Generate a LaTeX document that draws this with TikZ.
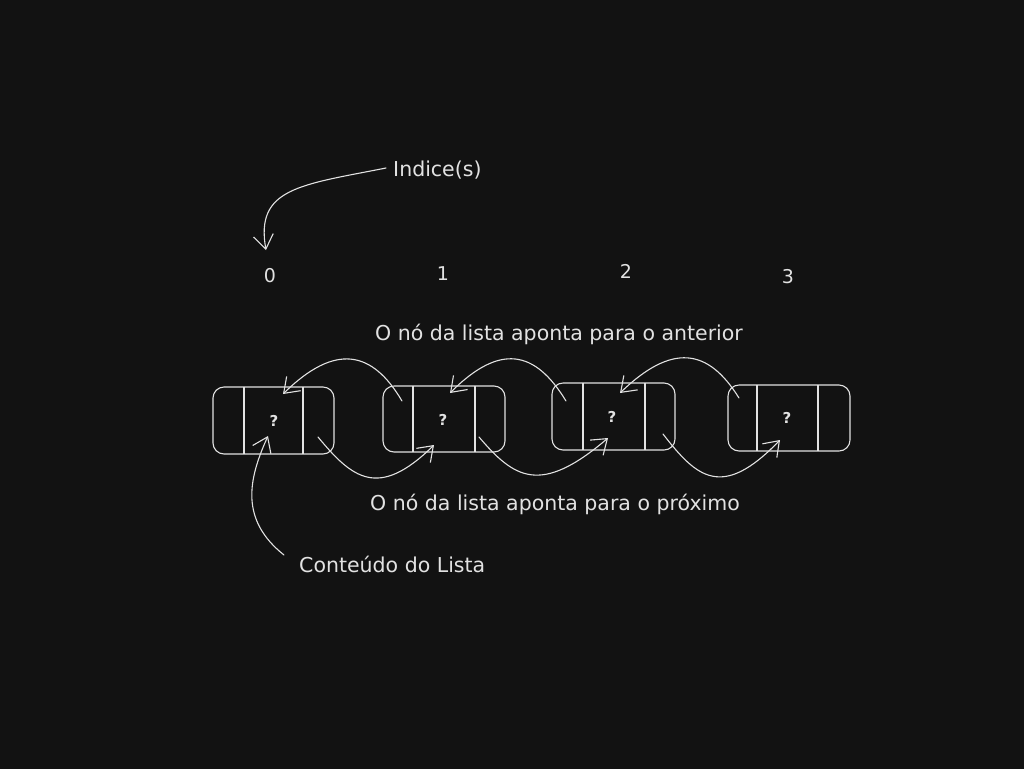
\documentclass[tikz,border=0pt]{standalone}
\usepackage{fontspec}
\setmainfont{DejaVu Sans}
\usetikzlibrary{arrows.meta}
\definecolor{bg}{HTML}{121212}
\definecolor{ink}{HTML}{E2E2E2}
\tikzset{
  ink/.style={draw=ink, line width=1.1pt},
  cell/.style={ink, rounded corners=11pt},
  arr/.style={ink, line cap=round, line join=round, -{Straight Barb[length=14pt,width=20pt,line width=1.1pt]}},
  lbl/.style={text=ink, font=\fontsize{20.5}{24}\selectfont, inner sep=0pt},
  idx/.style={text=ink, font=\fontsize{19}{21}\selectfont, inner sep=0pt},
  q/.style={text=ink, font=\bfseries\fontsize{15}{17}\selectfont, inner sep=0pt},
}
\begin{document}
\begin{tikzpicture}[x=1pt,y=-1pt]
\fill[bg] (0,0) rectangle (1024,769);
\useasboundingbox (0,0) rectangle (1024,769);

% boxes
\draw[cell] (213,387) rectangle (334,454);
\draw[ink] (244,387) -- (244,454) (303,387) -- (303,454);
\draw[cell] (383,386) rectangle (505,452);
\draw[ink] (413,386) -- (413,452) (475,386) -- (475,452);
\draw[cell] (552,383) rectangle (675,450);
\draw[ink] (583,383) -- (583,450) (645,383) -- (645,450);
\draw[cell] (728,385) rectangle (850,451);
\draw[ink] (757,385) -- (757,451) (818,385) -- (818,451);

\node[q] (q0) at (274,421) {?};
\node[q] (q1) at (443,420) {?};
\node[q] (q2) at (612,417) {?};
\node[q] (q3) at (787,418) {?};

% indices
\node[idx] (i0) at (270,276) {0};
\node[idx] (i1) at (443,274) {1};
\node[idx] (i2) at (626,271) {2};
\node[idx] (i3) at (788,277) {3};

% labels
\node[lbl, anchor=west] (ind) at (393,170) {Indice(s)};
\node[lbl] (ant) at (559,334) {O nó da lista aponta para o anterior};
\node[lbl] (prox) at (555,504) {O nó da lista aponta para o próximo};
\node[lbl, anchor=west] (cont) at (299,564) {Conteúdo do Lista};

% coordinates
\coordinate (a1s) at (402,401);
\coordinate (a1e) at (283,394);
\coordinate (a2s) at (566,401);
\coordinate (a2e) at (450,393);
\coordinate (a3s) at (739,398);
\coordinate (a3e) at (620,393);
\coordinate (p1s) at (318,437);
\coordinate (p1e) at (434,445);
\coordinate (p2s) at (479,437);
\coordinate (p2e) at (608,438);
\coordinate (p3s) at (663,434);
\coordinate (p3e) at (780,440);
\coordinate (cs) at (284,555);
\coordinate (ce) at (268,436);
\coordinate (is) at (386,168);
\coordinate (ie) at (266,250);

% previous pointers
\draw[arr] (a1s) .. controls (372,350) and (335,343) .. (a1e);
\draw[arr] (a2s) .. controls (535,350) and (500,343) .. (a2e);
\draw[arr] (a3s) .. controls (708,348) and (672,343) .. (a3e);
% next pointers
\draw[arr] (p1s) .. controls (352,478) and (378,500) .. (p1e);
\draw[arr] (p2s) .. controls (514,478) and (540,496) .. (p2e);
\draw[arr] (p3s) .. controls (697,478) and (722,500) .. (p3e);
% annotations
\draw[arr] (cs) .. controls (240,520) and (248,480) .. (ce);
\draw[arr] (is) .. controls (300,185) and (255,188) .. (ie);
\end{tikzpicture}
\end{document}
